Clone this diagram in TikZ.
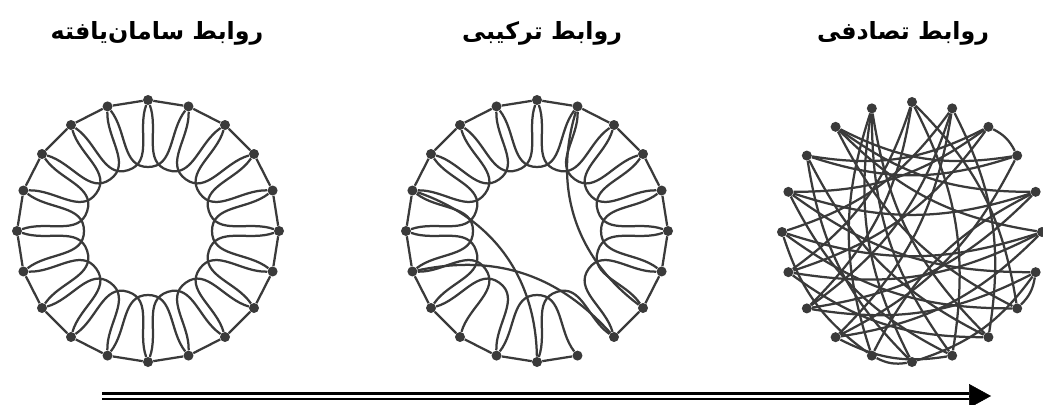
\documentclass[tikz,border=0pt]{standalone}
\usepackage{fontspec}
\newfontfamily\arabicfont[Script=Arabic]{DejaVu Sans}
\TeXXeTstate=1
\usetikzlibrary{arrows.meta}
\definecolor{netgray}{HTML}{3A3A3A}

\begin{document}
\begin{tikzpicture}[
  x=0.02cm, y=-0.02cm,
  dot/.style={circle,fill=netgray,inner sep=0pt,minimum size=0.2cm},
  edge/.style={netgray,line width=0.045cm},
  title/.style={font=\arabicfont\bfseries\fontsize{13.5}{15}\selectfont},
]
\fill[white] (0,0) rectangle (1043,405);
\useasboundingbox (0,0) rectangle (1043,405);

% titles
\node[title] (tl) at (157,33) {\beginR روابط سامان‌یافته\endR};
\node[title] (tm) at (542,33) {\beginR روابط ترکیبی\endR};
\node[title] (tr) at (903,33) {\beginR روابط تصادفی\endR};

% ---- regular ring ----
\begin{scope}[shift={(148,231)}]
\foreach \k in {0,...,19}{
  \node[dot] (L\k) at ({18*\k-90}:131) {};
  \coordinate (Lb\k) at ({18*\k-90}:64);
}
\foreach \k in {0,...,19}{
  \pgfmathtruncatemacro\a{mod(\k+1,20)}
  \pgfmathtruncatemacro\b{mod(\k+2,20)}
  \pgfmathtruncatemacro\oa{-18*\k-70}
  \pgfmathtruncatemacro\ia{180-18*\a}
  \pgfmathtruncatemacro\ob{-18*\a}
  \pgfmathtruncatemacro\ib{-18*\b-110}
  \draw[edge] (L\k) -- (L\a);
  \draw[edge] (L\k) to[out=\oa,in=\ia] (Lb\a) to[out=\ob,in=\ib] (L\b);
}
\end{scope}

% ---- small world ring ----
\begin{scope}[shift={(537,231)}]
\foreach \k in {0,...,19}{
  \node[dot] (M\k) at ({18*\k-90}:131) {};
  \coordinate (Mb\k) at ({18*\k-90}:64);
}
\foreach \k in {0,...,19}{
  \pgfmathtruncatemacro\a{mod(\k+1,20)}
  \pgfmathtruncatemacro\b{mod(\k+2,20)}
  \pgfmathtruncatemacro\oa{-18*\k-70}
  \pgfmathtruncatemacro\ia{180-18*\a}
  \pgfmathtruncatemacro\ob{-18*\a}
  \pgfmathtruncatemacro\ib{-18*\b-110}
  \ifnum\k=8 \else \draw[edge] (M\k) -- (M\a); \fi
  \ifnum\k=7 \else\ifnum\k=10 \else
    \draw[edge] (M\k) to[out=\oa,in=\ia] (Mb\a) to[out=\ob,in=\ib] (M\b);
  \fi\fi
}
% rewired links
\draw[edge] (M16) to[bend left=35] (M10);
\draw[edge] (M14) to[bend left=30] (M8);
\draw[edge] (M1) to[bend right=35] (M7);
\end{scope}

% ---- random ring ----
\begin{scope}[shift={(912,232)}]
\foreach \k in {0,...,19}
  \node[dot] (R\k) at ({18*\k-90}:130) {};
\foreach \p/\q in {2/3,6/7,10/11,0/9,0/13,0/7,1/12,1/15,1/8,2/14,2/17,3/17,
    3/12,4/16,4/13,4/18,5/15,5/14,5/18,6/16,6/13,7/15,7/18,8/19,8/14,8/17,
    9/16,9/19,9/12,10/19,10/17,11/19,11/4,11/15,1/13,2/16,3/18,5/12,6/10,0/14}
  \draw[edge] (R\p) to[bend left=18] (R\q);
\end{scope}

% ---- arrow ----
\coordinate (a0) at (102,396);
\coordinate (ah) at (969,396);
\coordinate (a1) at (991,396);
\draw[black,line width=0.05cm,double distance=0.06cm] (a0) -- (ah);
\draw[black,line width=0.01cm,-{Triangle[length=0.44cm,width=0.48cm]}] (ah) -- (a1);
\end{tikzpicture}
\end{document}
